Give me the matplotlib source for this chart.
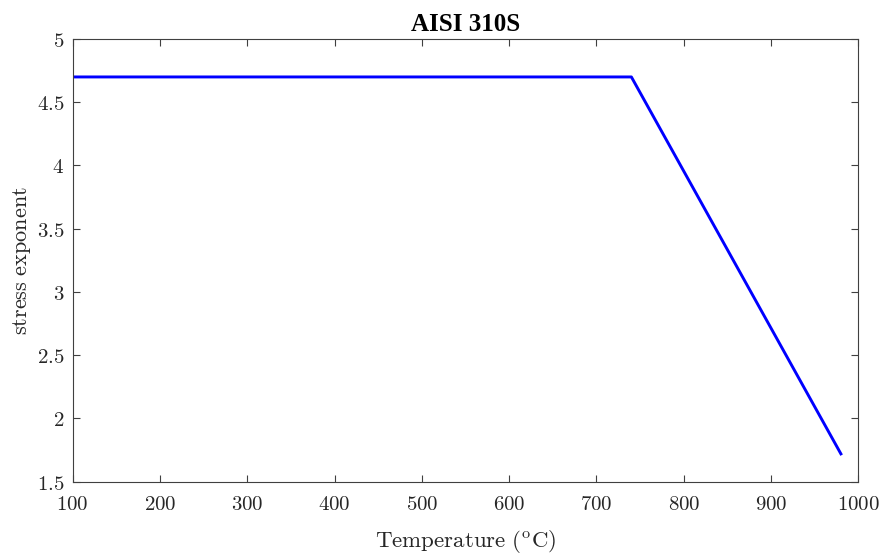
import matplotlib
matplotlib.use('Agg')
import matplotlib.pyplot as plt
from matplotlib.ticker import FuncFormatter

# data
temperature = [100, 740, 980]
stress_exponent = [4.7, 4.7, 1.72]
xticks = [100, 200, 300, 400, 500, 600, 700, 800, 900, 1000]
yticks = [1.5, 2, 2.5, 3, 3.5, 4, 4.5, 5]

plt.rcParams['mathtext.fontset'] = 'cm'

fig = plt.figure(figsize=(8.84, 5.54), dpi=100)
ax = fig.add_axes([0.0822, 0.1305, 0.8888, 0.7991])
ax.plot(temperature, stress_exponent, color='#0000ff', lw=2.1)

ax.set_xlim(100, 1000)
ax.set_ylim(1.5, 5)
ax.set_xticks(xticks)
ax.set_yticks(yticks)
ax.xaxis.set_major_formatter(FuncFormatter(lambda v, p: r'$%g$' % v))
ax.yaxis.set_major_formatter(FuncFormatter(lambda v, p: r'$%g$' % v))
ax.tick_params(direction='in', top=True, right=True, length=5, width=0.8,
               color='#404040', labelsize=15, labelcolor='#262626')
ax.tick_params(axis='x', pad=9)
ax.tick_params(axis='y', pad=6)
for s in ax.spines.values():
    s.set_color('#404040')
    s.set_linewidth(0.8)

ax.set_xlabel(r'$\mathrm{Temperature\ (^oC)}$', fontsize=16.5, color='#262626', labelpad=10)
ax.set_ylabel(r'$\mathrm{stress\ exponent}$', fontsize=16, color='#262626', labelpad=3)
ax.set_title('AISI 310S', fontsize=18, fontweight='bold', family='Liberation Serif', pad=6)

fig.savefig('out.png', dpi=100)
